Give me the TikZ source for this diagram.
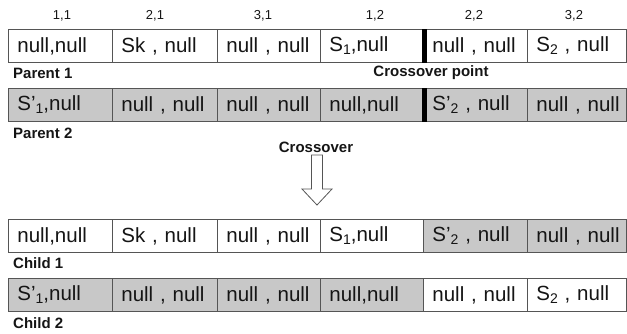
\documentclass[tikz,border=0pt]{standalone}
\usepackage{fontspec}
\setmainfont{Liberation Sans}
\definecolor{cellgray}{HTML}{C8C8C8}
\definecolor{edgegray}{HTML}{555555}
\definecolor{inkc}{HTML}{151515}
\newcommand{\sbx}[1]{\raisebox{-0.28ex}{\fontsize{14}{14}\selectfont #1}}
\begin{document}
\begin{tikzpicture}[x=1pt,y=-1pt,
  cellbox/.style={draw=edgegray,line width=0.8pt,rectangle,anchor=north west,minimum height=33pt,
    inner xsep=9pt,inner ysep=0pt,align=left,text=inkc,
    font=\fontsize{20.5}{24}\selectfont},
  wbox/.style={cellbox,fill=white},
  gbox/.style={cellbox,fill=cellgray},
  wA/.style={text width=86pt},
  wB/.style={text width=87pt},
  wC/.style={text width=85pt},
  wD/.style={text width=85pt},
  wE/.style={text width=86pt},
  wF/.style={text width=81pt},
  boldlab/.style={font=\bfseries\fontsize{15}{18}\selectfont,text=inkc,inner sep=0pt},
  collab/.style={font=\fontsize{13}{15}\selectfont,text=inkc,inner sep=0pt},
  cutbar/.style={line width=5pt,black}
]
\useasboundingbox (0,0) rectangle (627,333);
% column labels
\node[collab] (h1) at (62,16) {1,1};
\node[collab] (h2) at (155,16) {2,1};
\node[collab] (h3) at (263,16) {3,1};
\node[collab] (h4) at (375,16) {1,2};
\node[collab] (h5) at (474,16) {2,2};
\node[collab] (h6) at (574,16) {3,2};
% Parent 1
\node[wbox,wA] (a1) at (8,29) {null,null};
\node[wbox,wB] (a2) at (112,29) {Sk , null};
\node[wbox,wC] (a3) at (217,29) {null , null};
\node[wbox,wD] (a4) at (320,29) {S\sbx{1},null};
\node[wbox,wE] (a5) at (423,29) {null , null};
\node[wbox,wF] (a6) at (527,29) {\mbox{S\sbx{2} , null}};
% Parent 2
\node[gbox,wA] (b1) at (8,88) {S’\sbx{1},null};
\node[gbox,wB] (b2) at (112,88) {null , null};
\node[gbox,wC] (b3) at (217,88) {null , null};
\node[gbox,wD] (b4) at (320,88) {null,null};
\node[gbox,wE] (b5) at (423,88) {S’\sbx{2} , null};
\node[gbox,wF] (b6) at (527,88) {\mbox{null , null}};
% Child 1
\node[wbox,wA] (c1) at (8,219) {null,null};
\node[wbox,wB] (c2) at (112,219) {Sk , null};
\node[wbox,wC] (c3) at (217,219) {null , null};
\node[wbox,wD] (c4) at (320,219) {S\sbx{1},null};
\node[gbox,wE] (c5) at (423,219) {S’\sbx{2} , null};
\node[gbox,wF] (c6) at (527,219) {\mbox{null , null}};
% Child 2
\node[gbox,wA] (d1) at (8,278) {S’\sbx{1},null};
\node[gbox,wB] (d2) at (112,278) {null , null};
\node[gbox,wC] (d3) at (217,278) {null , null};
\node[gbox,wD] (d4) at (320,278) {null,null};
\node[wbox,wE] (d5) at (423,278) {null , null};
\node[wbox,wF] (d6) at (527,278) {\mbox{S\sbx{2} , null}};
% crossover bars
\draw[cutbar] ([xshift=1.5pt]a5.north west) -- ([xshift=1.5pt]a5.south west);
\draw[cutbar] ([xshift=1.5pt]b5.north west) -- ([xshift=1.5pt]b5.south west);
% labels
\node[boldlab,anchor=west] (lp1) at (13,73) {Parent 1};
\node[boldlab,anchor=west] (lp2) at (13,133) {Parent 2};
\node[boldlab] (lcp) at (431,73) {Crossover point};
\node[boldlab] (lco) at (316,147) {Crossover};
\node[boldlab,anchor=west] (lc1) at (13,263) {Child 1};
\node[boldlab,anchor=west] (lc2) at (13,323) {Child 2};
% arrow
\draw[edgegray,line width=0.8pt,fill=white]
  (311.5,155) -- (322.5,155) -- (322.5,189) -- (332,189) -- (317,205)
  -- (302,189) -- (311.5,189) -- cycle;
\end{tikzpicture}
\end{document}
